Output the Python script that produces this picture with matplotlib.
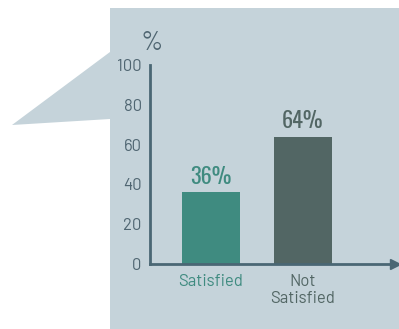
import matplotlib
matplotlib.use('Agg')
import matplotlib.pyplot as plt
from matplotlib.patches import Polygon

# data
categories = ['Satisfied', 'Not\nSatisfied']
values = [36, 64]
value_labels = ['36%', '64%']
yticks = [0, 20, 40, 60, 80, 100]

bar_colors = ['#3f8b80', '#526664']
panel_color = '#c5d3da'
axis_color = '#4a6774'
tick_color = '#4f6571'

body_font = ['Barlow', 'DejaVu Sans']
num_font = ['Oswald', 'DejaVu Sans']

W, H = 399, 329
fig = plt.figure(figsize=(W / 100, H / 100), dpi=100)
fig.patch.set_facecolor('white')

# speech-bubble panel behind the chart (pixel coordinates)
bg = fig.add_axes([0, 0, 1, 1])
bg.set_xlim(0, W)
bg.set_ylim(H, 0)
bg.axis('off')
bubble = [(110, 8), (W, 8), (W, H), (110, H), (110, 119), (12, 125), (110, 52)]
bg.add_patch(Polygon(bubble, closed=True, facecolor=panel_color, edgecolor='none'))

# chart axes
left, right, top, bottom = 150, 395, 65, 264
ax = fig.add_axes([left / W, (H - bottom) / H, (right - left) / W, (bottom - top) / H])
ax.patch.set_alpha(0)

x = list(range(len(categories)))
bars = ax.bar(x, values, width=0.63, color=bar_colors, zorder=2)

for b, lab, c in zip(bars, value_labels, bar_colors):
    ax.annotate(lab, (b.get_x() + b.get_width() / 2, b.get_height()),
                xytext=(0, 3), textcoords='offset points', ha='center', va='bottom',
                fontsize=16, fontweight='medium', color=c, family=num_font)

ax.set_xlim(-0.663, 2.0)
ax.set_ylim(0, 100)
ax.set_yticks(yticks)
ax.set_yticklabels([str(t) for t in yticks], family=body_font, fontsize=12, color=tick_color)
ax.set_xticks(x)
ax.set_xticklabels(categories, family=body_font, fontsize=12, linespacing=1.15)
for lab, c in zip(ax.get_xticklabels(), bar_colors):
    lab.set_color(c)
ax.tick_params(axis='both', length=0)
ax.tick_params(axis='y', pad=6)
ax.tick_params(axis='x', pad=7)

for s in ['top', 'right']:
    ax.spines[s].set_visible(False)
for s in ['left', 'bottom']:
    ax.spines[s].set_color(axis_color)
    ax.spines[s].set_linewidth(2)
ax.spines['bottom'].set_bounds(-0.663, 1.96)
ax.plot([1], [0], marker='>', markersize=7, color=axis_color,
        transform=ax.transAxes, clip_on=False, zorder=3)

ax.annotate('%', (0, 1), xycoords='axes fraction', xytext=(1, 7), textcoords='offset points',
            ha='center', va='bottom', fontsize=19, color=tick_color, family=body_font)

fig.savefig('out.png', dpi=100)
